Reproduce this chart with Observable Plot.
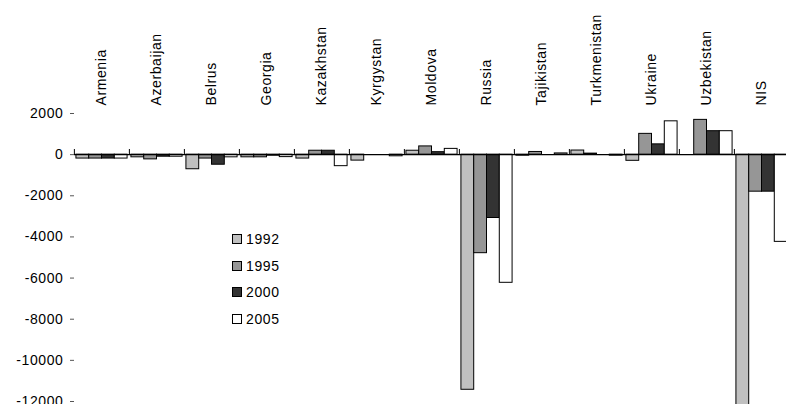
<!DOCTYPE html>
<html><head><meta charset="utf-8">
<script src="https://cdn.jsdelivr.net/npm/d3@7"></script>
<script src="https://cdn.jsdelivr.net/npm/@observablehq/plot@0.6"></script>
<style>
html,body{margin:0;padding:0;background:#fff;overflow:hidden;}
#chart{position:relative;width:786px;height:404px;overflow:hidden;font-family:"Liberation Sans",Arial,sans-serif;}
#chart svg{overflow:hidden;}
#chart svg text{font-size:14px;letter-spacing:0.6px;}
.legend{position:absolute;left:232px;top:226px;font-size:14px;letter-spacing:0.6px;color:#000;}
.legend .row{display:flex;align-items:center;height:26.5px;}
.legend .sw{width:10px;height:10px;border:1px solid #000;margin-right:4px;box-sizing:border-box;}
</style></head><body><div id="chart"></div>
<script>
const countries = ["Armenia","Azerbaijan","Belrus","Georgia","Kazakhstan","Kyrgystan","Moldova","Russia","Tajikistan","Turkmenistan","Ukraine","Uzbekistan","NIS"];
const years = ["1992","1995","2000","2005"];
const v1992 = [-190, -130, -710, -130, -190, -290, 190, -11430, -50, 200, -300, 0, -13500];
const v1995 = [-190, -230, -190, -130, 190, 0, 400, -4790, 130, 50, 1010, 1690, -1800];
const v2000 = [-190, -100, -490, -50, 190, 0, 120, -3080, 0, 0, 500, 1140, -1800];
const v2005 = [-190, -100, -130, -120, -560, -80, 280, -6230, 60, -50, 1620, 1140, -4240];
const yearColors = ["#c0c0c0", "#969696", "#333333", "#ffffff"];
const yTicks = [2000, 0, -2000, -4000, -6000, -8000, -10000, -12000];

const series = [v1992, v1995, v2000, v2005];
const data = countries.flatMap((c, i) => years.map((y, j) => ({country: c, year: y, value: series[j][i]})));

const left = 69, right = 794, padOuter = 0.15;
const step = (right - left) / countries.length;
const band = step / (years.length + 2 * padOuter);
const sepDx = -(padOuter * band + band / 2);

const chart = Plot.plot({
  width: 786,
  height: 404,
  marginLeft: left,
  marginRight: 786 - right,
  marginTop: 113,
  marginBottom: 3,
  style: {fontFamily: "'Liberation Sans', Arial, sans-serif", fontSize: "14px", background: "#fff", color: "#000"},
  fx: {domain: countries, range: [left, right], padding: 0, label: null},
  x: {domain: years, paddingInner: 0, paddingOuter: padOuter, axis: null, round: false},
  y: {domain: [-12000, 2000], range: [401, 113], label: null},
  color: {domain: years, range: yearColors},
  marks: [
    Plot.barY(data, {fx: "country", x: "year", y: "value", fill: "year", stroke: "#000", strokeWidth: 1, inset: 0}),
    Plot.ruleY([0], {stroke: "#000", strokeWidth: 1.3}),
    Plot.ruleX(countries, {fx: d => d, x: () => "1992", y1: 0, y2: 250, dx: sepDx, stroke: "#000"}),
    Plot.axisY({ticks: yTicks, tickSize: 4, tickPadding: 7, line: true, fontSize: 14, color: "#000", stroke: "#555", tickFormat: d => String(d), label: null}),
    Plot.axisFx({anchor: "top", tickRotate: -90, tickSize: 0, tickPadding: 8, fontSize: 14, label: null})
  ]
});
const root = document.getElementById("chart");
root.appendChild(chart);

const legend = document.createElement("div");
legend.className = "legend";
years.forEach((y, j) => {
  const row = document.createElement("div");
  row.className = "row";
  const sw = document.createElement("span");
  sw.className = "sw";
  sw.style.background = yearColors[j];
  const t = document.createElement("span");
  t.textContent = y;
  row.appendChild(sw); row.appendChild(t);
  legend.appendChild(row);
});
root.appendChild(legend);
</script>
</body></html>
